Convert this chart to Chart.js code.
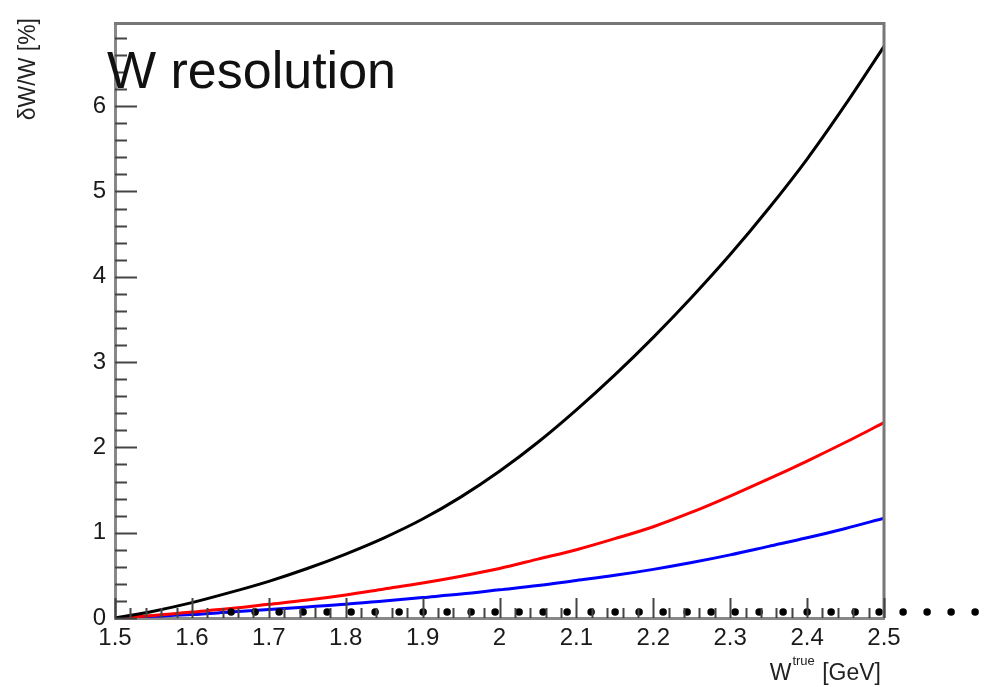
<!DOCTYPE html>
<html>
<head>
<meta charset="utf-8">
<script src="https://cdn.jsdelivr.net/npm/chart.js@4"></script>
<style>
  html, body { margin: 0; padding: 0; background: #fff; }
  #wrap { width: 990px; height: 687px; position: relative; }
</style>
</head>
<body>
<div id="wrap"><canvas id="myCanvas"></canvas></div>
<script>
// values
const wTrue = [1.50, 1.55, 1.60, 1.65, 1.70, 1.75, 1.80, 1.85, 1.90, 1.95, 2.00,
               2.05, 2.10, 2.15, 2.20, 2.25, 2.30, 2.35, 2.40, 2.45, 2.50];
const blackRes = [0.00, 0.08, 0.18, 0.30, 0.43, 0.58, 0.75, 0.94, 1.16, 1.42, 1.72,
                  2.06, 2.44, 2.85, 3.29, 3.76, 4.26, 4.80, 5.38, 6.02, 6.70];
const redRes = [0.00, 0.03, 0.07, 0.11, 0.16, 0.21, 0.27, 0.34, 0.41, 0.49, 0.58,
                0.69, 0.80, 0.93, 1.07, 1.24, 1.43, 1.63, 1.84, 2.06, 2.29];
const blueRes = [0.00, 0.02, 0.04, 0.07, 0.10, 0.13, 0.16, 0.20, 0.24, 0.28, 0.33,
                 0.38, 0.44, 0.50, 0.57, 0.65, 0.74, 0.84, 0.94, 1.05, 1.17];
// dotted line that runs past the frame
const dotsX = [1.651, 2.62];
const dotsY = [0.07, 0.07];

const xTickValues = [1.5, 1.6, 1.7, 1.8, 1.9, 2.0, 2.1, 2.2, 2.3, 2.4, 2.5];
const yTickValues = [0, 1, 2, 3, 4, 5, 6];

const toPoints = (xs, ys) => xs.map((x, i) => ({x: x, y: ys[i]}));

const FONT = '"Liberation Sans", Arial, Helvetica, sans-serif';

///// decorations: frame, inner ticks, titles /////
const decor = {
  id: 'decor',
  afterDraw(chart) {
    const {ctx, chartArea: a, scales: {x, y}} = chart;
    ctx.save();
    // top + right frame
    ctx.strokeStyle = '#777';
    ctx.lineWidth = 3;
    ctx.beginPath();
    ctx.moveTo(a.left - 1, a.top);
    ctx.lineTo(a.right, a.top);
    ctx.lineTo(a.right, a.bottom);
    ctx.stroke();

    // ticks pointing inward
    ctx.strokeStyle = '#444';
    ctx.lineWidth = 2;
    ctx.beginPath();
    for (let v = 0; v <= 6.9; v += 0.2) {
      const py = Math.round(y.getPixelForValue(v)) + 0.5;
      const major = Math.abs(v - Math.round(v)) < 1e-6;
      ctx.moveTo(a.left, py);
      ctx.lineTo(a.left + (major ? 22 : 12), py);
    }
    for (let k = 0; k <= 50; k++) {
      const v = 1.5 + k * 0.02;
      const px = Math.round(x.getPixelForValue(v)) + 0.5;
      const major = k % 5 === 0;
      ctx.moveTo(px, a.bottom);
      ctx.lineTo(px, a.bottom - (major ? 20 : 10));
    }
    ctx.stroke();

    // plot title inside the frame
    ctx.fillStyle = '#111';
    ctx.font = '52px ' + FONT;
    ctx.textAlign = 'left';
    ctx.textBaseline = 'alphabetic';
    ctx.fillText('W resolution', 107, 88);

    // y axis title, rotated, aligned to the top
    ctx.save();
    ctx.translate(35, 18);
    ctx.rotate(-Math.PI / 2);
    ctx.font = '23px ' + FONT;
    ctx.textAlign = 'right';
    ctx.textBaseline = 'alphabetic';
    ctx.fillStyle = '#222';
    ctx.fillText('\u03B4W/W [%]', 0, 0);
    ctx.restore();

    // x axis title with superscript, aligned to the right
    const big = '23px ' + FONT, small = '13px ' + FONT;
    ctx.fillStyle = '#222';
    ctx.font = big;
    const wW = ctx.measureText('W').width;
    const wG = ctx.measureText(' [GeV]').width;
    ctx.font = small;
    const wT = ctx.measureText('true').width;
    let sx = 881 - (wW + wT + 2 + wG);
    ctx.font = big;
    ctx.fillText('W', sx, 680);
    sx += wW + 1;
    ctx.font = small;
    ctx.fillText('true', sx, 665);
    sx += wT + 1;
    ctx.font = big;
    ctx.fillText(' [GeV]', sx, 680);
    ctx.restore();
  }
};

const ctx = document.getElementById('myCanvas').getContext('2d');

const myChart = new Chart(ctx, {
  type: 'line',
  data: {
    datasets: [
      {
        data: toPoints(dotsX, dotsY),
        borderColor: '#000',
        borderWidth: 7.5,
        borderDash: [0, 24],
        borderCapStyle: 'round',
        pointRadius: 0,
        tension: 0,
        clip: false
      },
      {
        data: toPoints(wTrue, blackRes),
        borderColor: '#000',
        borderWidth: 3,
        pointRadius: 0,
        cubicInterpolationMode: 'monotone'
      },
      {
        data: toPoints(wTrue, redRes),
        borderColor: '#ff0000',
        borderWidth: 3,
        pointRadius: 0,
        cubicInterpolationMode: 'monotone'
      },
      {
        data: toPoints(wTrue, blueRes),
        borderColor: '#0000ff',
        borderWidth: 3,
        pointRadius: 0,
        cubicInterpolationMode: 'monotone'
      }
    ]
  },
  options: {
    responsive: true,
    maintainAspectRatio: false,
    animation: false,
    events: [],
    layout: {
      padding: {left: 0, top: 23, right: 106, bottom: 0}
    },
    plugins: {
      legend: {display: false},
      tooltip: {enabled: false}
    },
    scales: {
      x: {
        type: 'linear',
        min: 1.5,
        max: 2.5,
        afterBuildTicks: s => { s.ticks = xTickValues.map(v => ({value: v})); },
        afterFit: s => { s.height = 69; },
        grid: {display: false, drawTicks: false},
        border: {display: true, color: '#888', width: 3},
        ticks: {
          padding: 6,
          color: '#1a1a1a',
          maxRotation: 0,
          autoSkip: false,
          font: {family: FONT, size: 24},
          callback: v => String(Number(v.toFixed(2)))
        }
      },
      y: {
        type: 'linear',
        min: 0,
        max: 6.97,
        afterBuildTicks: s => { s.ticks = yTickValues.map(v => ({value: v})); },
        afterFit: s => { s.width = 115; },
        grid: {display: false, drawTicks: false},
        border: {display: true, color: '#888', width: 3},
        ticks: {
          padding: 9,
          color: '#1a1a1a',
          font: {family: FONT, size: 24},
          callback: v => String(v)
        }
      }
    }
  },
  plugins: [decor]
});
</script>
</body>
</html>
